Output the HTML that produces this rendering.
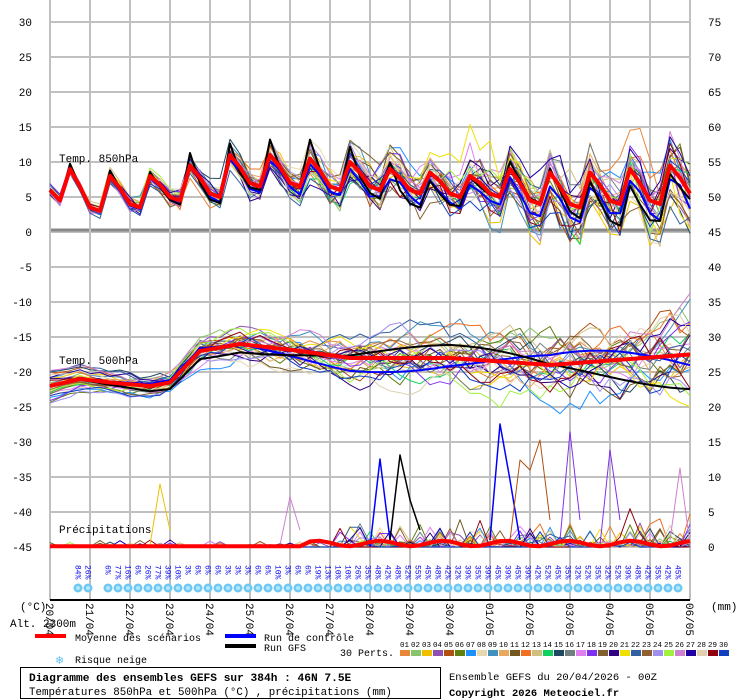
<!DOCTYPE html>
<html><head><meta charset="utf-8"><style>
body{margin:0;background:#fff;}
svg{display:block;font-family:"Liberation Mono",monospace;}
</style></head><body>
<svg id="s" width="740" height="700" xmlns="http://www.w3.org/2000/svg">
<g id="grid"></g>
<g id="snow"></g>
<g id="series"></g>
<g font-size="11" fill="#000">
<text x="59" y="162">Temp. 850hPa</text>
<text x="59" y="364">Temp. 500hPa</text>
<text x="59" y="533">Précipitations</text>
</g>
<g id="labels" font-size="11"></g>
<line x1="50" y1="600" x2="690" y2="600" stroke="#000" stroke-width="2"/>
<g font-size="10">
<text x="20" y="610" font-size="11">(°C)</text>
<text x="10" y="627" font-size="11">Alt. 2300m</text>
<text x="711" y="610" font-size="11">(mm)</text>
<line x1="35" y1="636" x2="66" y2="636" stroke="#f00" stroke-width="4"/>
<text x="75" y="641">Moyenne des scénarios</text>
<line x1="225" y1="636" x2="256" y2="636" stroke="#00f" stroke-width="4"/>
<text x="264" y="641">Run de contrôle</text>
<line x1="225" y1="646" x2="256" y2="646" stroke="#000" stroke-width="4"/>
<text x="264" y="651">Run GFS</text>
<text x="55" y="664" fill="#60c0f0" font-family="DejaVu Sans" font-size="11">❄</text>
<text x="75" y="663">Risque neige</text>
<text x="340" y="656">30 Perts.</text>
<rect x="20.5" y="667.5" width="420" height="31" fill="none" stroke="#000"/>
<text x="29" y="681" font-weight="bold" font-size="11.2">Diagramme des ensembles GEFS sur 384h : 46N 7.5E</text>
<text x="29" y="695" font-size="10.8">Températures 850hPa et 500hPa (°C) , précipitations (mm)</text>
<text x="449" y="680" font-size="10.5">Ensemble GEFS du 20/04/2026 - 00Z</text>
<text x="449" y="696" font-weight="bold" font-size="10.5">Copyright 2026 Meteociel.fr</text>
</g>
<g id="leg" font-size="7.5"></g>
</svg>
<script>
var NS="http://www.w3.org/2000/svg";
function el(p,t,a,txt){var e=document.createElementNS(NS,t);for(var k in a)e.setAttribute(k,a[k]);if(txt!=null)e.textContent=txt;document.getElementById(p).appendChild(e);return e;}
var seed=12345;function rnd(){seed=(seed*1103515245+12345)%2147483648;return seed/2147483648;}
function Y(v){return 232-v*7;}
for(var v=30;v>=-45;v-=5){el("grid","line",{x1:50,x2:690,y1:Y(v),y2:Y(v),stroke:"#c0c0c0","stroke-width":2});
 el("labels","text",{x:32,y:Y(v)+4,"text-anchor":"end"},String(v));
 var r=v+45; if(r>=0) el("labels","text",{x:708,y:Y(v)+4},String(r));}
el("grid","line",{x1:50,x2:690,y1:230,y2:230,stroke:"#888","stroke-width":3});
var dates=["20/04","21/04","22/04","23/04","24/04","25/04","26/04","27/04","28/04","29/04","30/04","01/05","02/05","03/05","04/05","05/05","06/05"];
for(var d=0;d<=16;d++){var x=50+40*d;el("grid","line",{x1:x,x2:x,y1:0,y2:600,stroke:"#c0c0c0","stroke-width":2});
 el("labels","text",{transform:"translate("+(x-4)+",603) rotate(90)","font-size":"11"},dates[d]);}
var pct=[84,26,null,6,77,16,6,26,77,39,10,3,6,6,6,3,3,3,6,6,10,3,6,6,19,13,10,10,26,35,48,42,48,52,55,45,48,42,32,39,35,39,45,39,45,39,42,52,45,35,32,52,35,32,52,39,48,42,35,42,45];
for(var i=0;i<pct.length;i++){if(pct[i]==null)continue;var x=73+10*i;var top=Math.min(577,588-pct[i]*0.32);
 el("snow","rect",{x:x,y:top,width:10,height:596-top,fill:"#c8f8fc"});
 el("snow","text",{transform:"translate("+(x+2.5)+",565) rotate(90)",fill:"#0000f0","font-size":"8"},pct[i]+"%");
 el("snow","circle",{cx:x+5,cy:588,r:4.5,fill:"#70c8f0"});
 el("snow","circle",{cx:x+5,cy:588,r:2,fill:"#b0e8ff"});}
var pk=[9,8,8,9.5,11,11,10.5,10,9,8.5,8,9,8.5,8.5,9,9.5,7],mn=[4.5,3,3.5,4.5,5,6.5,6.5,6,6,5.5,5,5,4,3.5,4,4,5];
function m850(i){var d=Math.floor(i/4),p=i%4;if(i==0)return 6;
 if(p==0)return mn[d]+0.5;if(p==1)return mn[d];if(p==2)return pk[d];return (pk[d]+mn[d+1])/2+0.5;}
var k5=[[50,-22],[80,-21],[110,-21.5],[150,-22],[170,-21.5],[200,-17],[240,-16],[300,-17],[350,-18],[450,-18],[550,-19],[690,-17.5]];
function m500(i){var x=50+10*i;for(var j=0;j<k5.length-1;j++){if(x<=k5[j+1][0]){var a=k5[j],b=k5[j+1];return a[1]+(b[1]-a[1])*(x-a[0])/(b[0]-a[0]);}}return -17.5;}
var cols=["#e8873a","#88c46c","#f0c000","#9050b0","#b05010","#608010","#1e90ff","#e8d8b0","#4090c0","#e8a860","#705820","#f07020","#d0c080","#10d060","#204860","#708080","#e080f0","#8030f0","#806030","#300080","#f0e000","#3060a0","#906030","#a090f0","#a0f040","#d080d0","#2000a0","#e0d0b0","#900010","#1040c0"];
function pl(pts,c,w){el("series","polyline",{points:pts.join(" "),fill:"none",stroke:c,"stroke-width":w,"stroke-linejoin":"round"});}
function member(c,w,bias850,bias500,wet){
 var a=[],b=[],p=[],o8=bias850,o5=bias500;
 for(var i=0;i<=64;i++){var x=50+10*i,s=0.3+i/64*3;
  o8=o8*0.85+(rnd()-0.5)*s*1.5; o5=o5*0.9+(rnd()-0.5)*s*0.9;
  a.push(x+","+Y(m850(i)+o8+(rnd()-0.5)*s*1.2).toFixed(1));
  b.push(x+","+Y(m500(i)+o5*1.8).toFixed(1));
  var pr=0;if(i>28&&rnd()<0.3)pr=rnd()*rnd()*3*wet;if(i<28&&rnd()<0.06)pr=rnd()*1;
  p.push(x+","+Y(-45+pr).toFixed(1));}
 pl(a,c,w);pl(b,c,w);pl(p,c,w);}
for(var m=0;m<30;m++)member(cols[m],1,(rnd()-0.5)*2,(rnd()-0.5)*3,1+rnd());
pl(["370,547","380,459","390,540"],"#0000ff",1.5);
pl(["390,540","400,455","410,500","420,530"],"#000",1.5);
pl(["490,540","500,424","510,480","520,540"],"#0000ff",1.5);
pl(["560,540","570,432","580,520"],"#8030f0",1);
pl(["600,545","610,450","620,520"],"#8030f0",1);
pl(["280,545","290,497","300,530"],"#d080d0",1);
pl(["150,545","160,484","170,530"],"#f0c000",1);
pl(["670,540","680,468","690,545"],"#d080d0",1);
pl(["510,540","520,460","530,470","540,440","550,520"],"#b05010",1);
seed=777;
(function(){var a=[],b=[],c=[],d=[];for(var i=0;i<=64;i++){var x=50+10*i,s=i/64;
 var g8=m850(i)+(i%4==2?2.5:0)*(i>12&&i<36?1:0.3)+Math.sin(i*0.3)*s*2-s*1.5;
 a.push(x+","+Y(g8).toFixed(1));
 b.push(x+","+Y(m500(i)-Math.sin(i*0.12)*s*4-s*1).toFixed(1));
 c.push(x+","+Y(m850(i)-s*2+(rnd()-0.5)*2*s).toFixed(1));
 d.push(x+","+Y(m500(i)+Math.sin(i*0.15)*s*3-s).toFixed(1));}
 pl(c,"#0000ff",2);pl(d,"#0000ff",2);pl(a,"#000",2);pl(b,"#000",2);
 var ma=[],mb=[],mp=[];for(var i=0;i<=64;i++){var x=50+10*i;ma.push(x+","+Y(m850(i)).toFixed(1));mb.push(x+","+Y(m500(i)).toFixed(1));mp.push(x+","+Y(-45+(i>25?0.5+0.4*Math.sin(i):0.1)).toFixed(1));}
 pl(ma,"#f00",4);pl(mb,"#f00",4);pl(mp,"#f00",4);})();
for(var m=0;m<30;m++){var x=400+11*m;el("leg","rect",{x:x,y:650,width:10,height:6,fill:cols[m]});
 el("leg","text",{x:x,y:647},(m<9?"0":"")+(m+1));}
</script>
</body></html>
